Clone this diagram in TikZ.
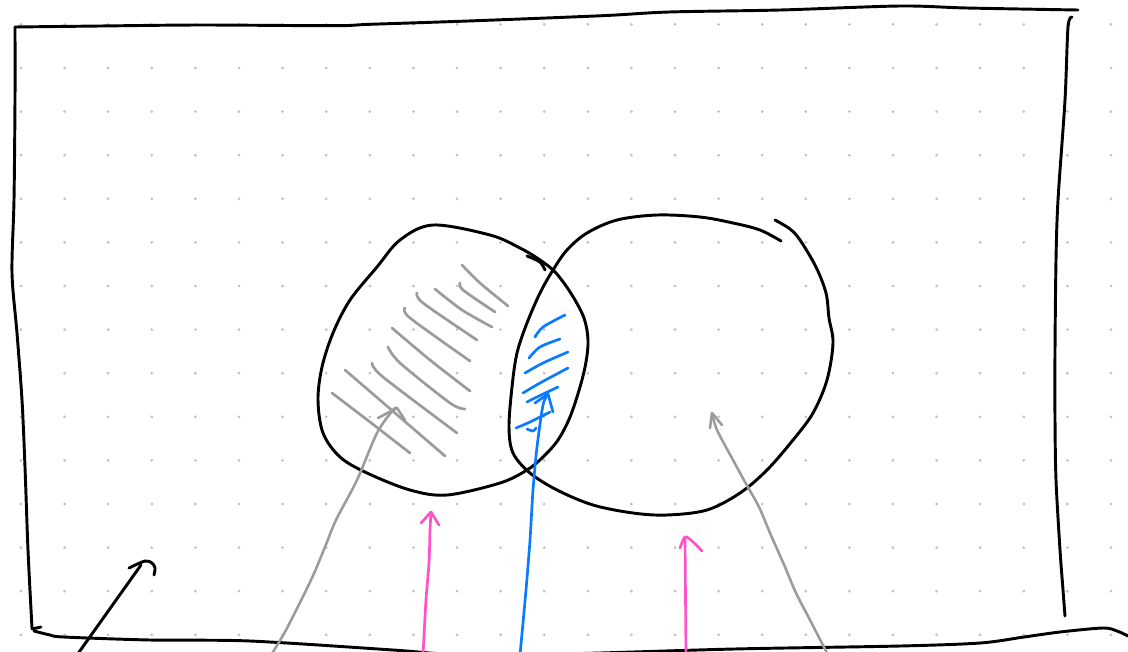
\documentclass[tikz,border=0pt]{standalone}
\definecolor{inkpink}{RGB}{255,82,200}
\definecolor{inkblue}{RGB}{10,122,255}
\definecolor{inkgray}{RGB}{155,155,155}
\definecolor{dotgray}{RGB}{190,190,190}
\begin{document}
\begin{tikzpicture}[x=0.75pt,y=-0.75pt,
  ink/.style={line width=2.2pt,line cap=round,line join=round},
  blackink/.style={ink,black},
  grayink/.style={ink,inkgray},
  hatchgray/.style={ink,inkgray,line width=2pt},
  blueink/.style={ink,inkblue,line width=2pt},
  pinkink/.style={ink,inkpink,line width=2pt},
]
\useasboundingbox (0,0) rectangle (1128,651);
\clip (0,0) rectangle (1128,651);
\fill[white] (0,0) rectangle (1128,651);
% dot grid
\foreach \i in {0,...,25}{\foreach \j in {0,...,14}{
  \fill[dotgray] ({21+43.6*\i},{24.4+43.6*\j}) circle[radius=1.1pt];}}

% outer frame
\draw[blackink] plot[smooth,tension=0.5] coordinates {(15,27) (100,26) (200,25) (334,25.7) (370,24.3) (468,21) (602,15.7) (669,12) (780,10) (900,6) (967,8) (1078,10)};
\draw[blackink] plot[smooth,tension=0.5] coordinates {(15,27) (15,100) (14,200) (12,273) (17,333) (22,400) (25,467) (28,550) (32,628)};
\draw[blackink] (32,629) -- (41,627);
\draw[blackink] plot[smooth,tension=0.5] coordinates {(34,631) (50,635) (64,637) (150,640) (250,641) (393,650) (450,654) (560,654) (734,649) (900,646) (980,643) (1024,637) (1060,632) (1103,628) (1117,631) (1128,636)};
\draw[blackink] plot[smooth,tension=0.5] coordinates {(1072,17) (1068,27) (1065,100) (1058,200) (1056,260) (1055,350) (1055,420) (1056,480) (1060,550) (1063,590) (1065,616)};

% left circle
\draw[blackink] plot[smooth cycle,tension=0.55] coordinates {(433,225) (490,235) (520,248) (540,260) (556,273) (572,295) (584,318) (588,340) (586,362) (580,387) (570,417) (558,440) (543,457) (527,470) (500,483) (447,495) (410,490) (367,473) (340,457) (323,433) (318,400) (322,367) (333,333) (350,300) (377,267) (400,240)};
\draw[blackink] plot[smooth] coordinates {(527,256) (540,262) (545,270)};

% right circle
\draw[blackink] plot[smooth,tension=0.55] coordinates {(781,241) (760,230) (733,223) (700,217) (657,215) (617,220) (587,233) (567,250) (553,270) (540,293) (527,323) (517,353) (512,387) (509,427) (513,453) (530,473) (557,490) (593,505) (633,513) (667,515) (707,510) (740,493) (767,470) (793,440) (813,413) (827,380) (833,343) (829,318) (826,293) (816,267) (800,240) (790,229) (775,220)};

% gray hatching
\draw[hatchgray] plot[smooth] coordinates {(462,265) (480,283) (508,306)};
\draw[hatchgray] plot[smooth] coordinates {(460,283) (463,290) (495,312)};
\draw[hatchgray] plot[smooth] coordinates {(435,289) (462,310) (492,327)};
\draw[hatchgray] plot[smooth] coordinates {(417,293) (423,303) (477,340)};
\draw[hatchgray] plot[smooth] coordinates {(405,308) (410,318) (470,361)};
\draw[hatchgray] plot[smooth] coordinates {(392,328) (430,360) (470,391)};
\draw[hatchgray] plot[smooth] coordinates {(388,347) (400,363) (450,403) (465,409)};
\draw[hatchgray] plot[smooth] coordinates {(372,363) (383,377) (457,433)};
\draw[hatchgray] plot[smooth] coordinates {(345,370) (395,413) (445,456)};
\draw[hatchgray] plot[smooth] coordinates {(332,393) (370,422) (410,453)};

% blue hatching
\draw[blueink] plot[smooth] coordinates {(565,315) (543,327) (535,337)};
\draw[blueink] plot[smooth] coordinates {(560,339) (540,347) (529,358)};
\draw[blueink] plot[smooth] coordinates {(568,352) (543,363) (525,373)};
\draw[blueink] plot[smooth] coordinates {(568,368) (540,383) (523,393)};
\draw[blueink] plot[smooth] coordinates {(558,387) (537,397) (527,402)};
\draw[blueink] plot[smooth] coordinates {(550,412) (530,422) (516,428)};
\draw[blueink] plot[smooth] coordinates {(527,429) (533,431) (536,428)};

% blue arrow
\draw[blueink] plot[smooth] coordinates {(520,655) (526,590) (530,540) (533,490) (537,447) (543,405) (548,394)};
\draw[blueink] (535,403) -- (548,394) -- (553,412);

% gray arrows
\draw[grayink,line width=1.9pt] plot[smooth] coordinates {(271,655) (286,630) (311,580) (325,547) (336,520) (357,480) (377,433) (393,410) (397,408)};
\draw[grayink,line width=1.9pt] (378,418) -- (397,408) -- (405,420);
\draw[grayink,line width=1.9pt] plot[smooth] coordinates {(828,655) (810,620) (796,593) (785,567) (770,533) (759,507) (745,482) (733,460) (717,430) (712,413)};
\draw[grayink,line width=1.9pt] (710,428) -- (712,413) -- (722,425);

% pink arrows
\draw[pinkink] plot[smooth] coordinates {(423,655) (426,600) (429,563) (430,530) (431,513)};
\draw[pinkink] (421,523) -- (431,512) -- (439,525);
\draw[pinkink] (686,655) -- (685,538);
\draw[pinkink] plot[smooth] coordinates {(680,548) (685,537) (692,541) (702,551)};

% black arrow
\draw[blackink] (77,655) -- (141,565);
\draw[blackink] plot[smooth] coordinates {(129,568) (145,561) (152,563) (155,568) (154,575)};
\end{tikzpicture}
\end{document}
